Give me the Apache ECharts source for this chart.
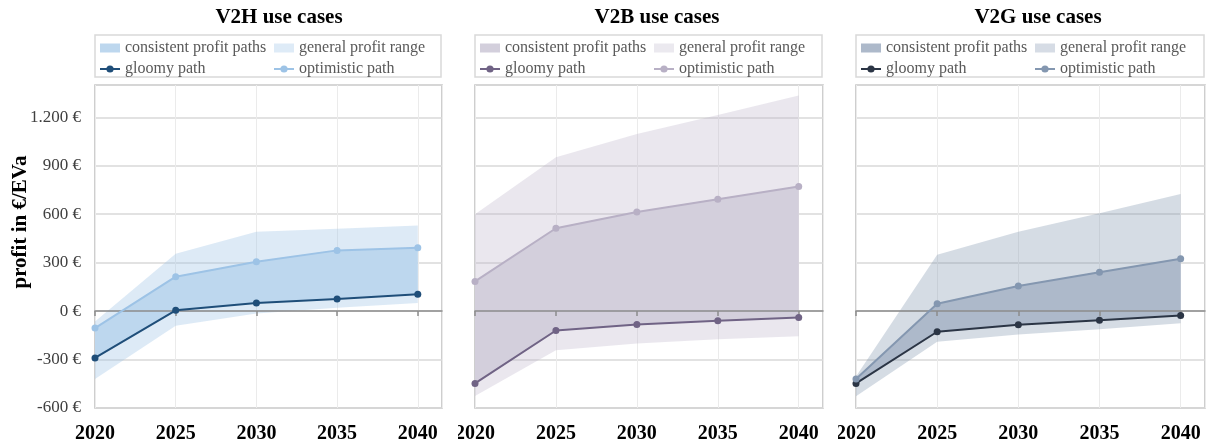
<!DOCTYPE html>
<html>
<head>
<meta charset="utf-8">
<script src="https://cdn.jsdelivr.net/npm/echarts@6/dist/echarts.min.js"></script>
<style>
  html, body { margin: 0; padding: 0; background: #fff; }
  #wrap { position: relative; width: 1209px; height: 445px; }
  .panel { position: absolute; top: 0; height: 445px; }
</style>
</head>
<body>
<div id="wrap">
  <div id="p1" class="panel" style="left:0;width:458px"></div>
  <div id="p2" class="panel" style="left:458px;width:380px"></div>
  <div id="p3" class="panel" style="left:838px;width:371px"></div>
</div>
<script>
// Years on the horizontal axis
const years = [2020, 2025, 2030, 2035, 2040];

// Vehicle-to-home profits (€ per EV and year)
const v2hGloomy     = [-290, 5, 50, 75, 105];
const v2hOptimistic = [-105, 213, 305, 376, 392];
const v2hRangeLow   = [-420, -90, -15, 20, 50];
const v2hRangeHigh  = [-65, 355, 492, 510, 530];

// Vehicle-to-building profits
const v2bGloomy     = [-448, -120, -83, -60, -39];
const v2bOptimistic = [184, 513, 614, 692, 771];
const v2bRangeLow   = [-525, -242, -200, -175, -155];
const v2bRangeHigh  = [600, 953, 1097, 1215, 1335];

// Vehicle-to-grid profits
const v2gGloomy     = [-448, -128, -85, -56, -27];
const v2gOptimistic = [-420, 45, 155, 240, 324];
const v2gRangeLow   = [-527, -190, -145, -112, -76];
const v2gRangeHigh  = [-405, 349, 492, 606, 725];

// Series / legend names
const nameConsistent = 'consistent profit paths';
const nameRange      = 'general profit range';
const nameGloomy     = 'gloomy path';
const nameOptimistic = 'optimistic path';

const FONT = "'Liberation Serif', 'Times New Roman', serif";

function pairs(vals) { return years.map((y, i) => [y, vals[i]]); }
function euro(v) {
  const s = Math.abs(v).toString().replace(/\B(?=(\d{3})+(?!\d))/g, '.');
  return (v < 0 ? '-' : '') + s + ' €';
}

// A filled band between a lower and an upper path, drawn as one polygon
function bandSeries(name, lo, hi, fill, legendColor) {
  return {
    name: name,
    type: 'custom',
    coordinateSystem: 'cartesian2d',
    silent: true,
    itemStyle: { color: legendColor },
    data: years.map((y, i) => [y, lo[i], hi[i]]),
    encode: { x: 0, y: [1, 2] },
    renderItem: function (params, api) {
      if (params.dataIndex !== 0) return;
      const pts = [];
      for (let j = 0; j < years.length; j++) pts.push(api.coord([years[j], hi[j]]));
      for (let j = years.length - 1; j >= 0; j--) pts.push(api.coord([years[j], lo[j]]));
      return { type: 'polygon', shape: { points: pts }, style: { fill: fill } };
    }
  };
}

function buildOption(p) {
  const gl = p.gridLeft, gw = p.gridWidth;
  const legendText = { fontFamily: FONT, fontSize: 16, color: '#595959' };
  return {
    animation: false,
    graphic: [
      { type: 'text', x: p.titleX, y: 18,
        style: { text: p.title, font: 'bold 21px ' + FONT, fill: '#000', align: 'center', verticalAlign: 'middle' } },
      { type: 'rect', shape: { x: gl, y: 35, width: gw - 1, height: 42 },
        style: { fill: 'none', stroke: '#d9d9d9', lineWidth: 1.5 } }
    ].concat(p.showY ? [
      { type: 'text', x: 21, y: 222, rotation: Math.PI / 2,
        style: { text: 'profit in €/EVa', font: 'bold 21px ' + FONT, fill: '#000', align: 'center', verticalAlign: 'middle' } }
    ] : []),
    legend: [
      { orient: 'vertical', left: gl + 4, top: 40, padding: 0, itemWidth: 20, itemHeight: 9, itemGap: 5,
        textStyle: legendText,
        data: [{ name: nameConsistent, icon: 'rect' }, { name: nameGloomy }] },
      { orient: 'vertical', left: gl + 178, top: 40, padding: 0, itemWidth: 20, itemHeight: 9, itemGap: 5,
        textStyle: legendText,
        data: [{ name: nameRange, icon: 'rect' }, { name: nameOptimistic }] }
    ],
    grid: { left: gl, top: 85, width: gw, height: 323, show: true,
            borderColor: '#bfbfbf', borderWidth: 1.5, containLabel: false, outerBoundsMode: 'none' },
    xAxis: [
      { type: 'value', min: 2020, max: 2041.5, interval: 5, position: 'bottom',
        axisLine: { show: false, onZero: false }, axisTick: { show: false },
        splitLine: { show: true, lineStyle: { color: '#ebebeb', width: 1 } },
        axisLabel: { showMaxLabel: false, margin: 16, color: '#000', fontFamily: FONT,
                     fontWeight: 'bold', fontSize: 20, formatter: v => String(v) } },
      // zero line with its small ticks, drawn over the bands
      { type: 'value', min: 2020, max: 2041.5, interval: 5, position: 'bottom', z: 3,
        axisLine: { show: true, onZero: true, lineStyle: { color: '#8c8c8c', width: 1.5 } },
        axisTick: { show: true, length: 5, customValues: years, lineStyle: { color: '#8c8c8c', width: 1.5 } },
        axisLabel: { show: false }, splitLine: { show: false } }
    ],
    yAxis: {
      type: 'value', min: -600, max: 1400, interval: 300,
      axisLine: { show: false }, axisTick: { show: false },
      splitLine: { lineStyle: { color: '#d9d9d9', width: 1.5 } },
      axisLabel: { show: p.showY, showMaxLabel: false, margin: 14, color: '#404040',
                   fontFamily: FONT, fontSize: 17, formatter: euro }
    },
    series: [
      bandSeries(nameRange, p.rangeLow, p.rangeHigh, p.rangeFill, p.rangeLegend),
      bandSeries(nameConsistent, p.gloomy, p.optimistic, p.consFill, p.consFill),
      { name: nameGloomy, type: 'line', z: 4, data: pairs(p.gloomy), symbol: 'circle', symbolSize: 7,
        lineStyle: { color: p.gloomyColor, width: 2 }, itemStyle: { color: p.gloomyColor } },
      { name: nameOptimistic, type: 'line', z: 4, data: pairs(p.optimistic), symbol: 'circle', symbolSize: 7,
        lineStyle: { color: p.optColor, width: 2 }, itemStyle: { color: p.optColor } }
    ]
  };
}

const panels = [
  { el: 'p1', title: 'V2H use cases', titleX: 279, gridLeft: 95, gridWidth: 347, showY: true,
    gloomy: v2hGloomy, optimistic: v2hOptimistic, rangeLow: v2hRangeLow, rangeHigh: v2hRangeHigh,
    consFill: '#bdd7ee', rangeLegend: '#deebf7', rangeFill: 'rgba(157,195,230,0.35)',
    gloomyColor: '#1f4e79', optColor: '#9dc3e6' },
  { el: 'p2', title: 'V2B use cases', titleX: 199, gridLeft: 17, gridWidth: 348, showY: false,
    gloomy: v2bGloomy, optimistic: v2bOptimistic, rangeLow: v2bRangeLow, rangeHigh: v2bRangeHigh,
    consFill: '#d3cfdc', rangeLegend: '#ebe9ef', rangeFill: 'rgba(184,176,198,0.3)',
    gloomyColor: '#706385', optColor: '#b8b0c5' },
  { el: 'p3', title: 'V2G use cases', titleX: 200, gridLeft: 18, gridWidth: 349, showY: false,
    gloomy: v2gGloomy, optimistic: v2gOptimistic, rangeLow: v2gRangeLow, rangeHigh: v2gRangeHigh,
    consFill: '#adb9ca', rangeLegend: '#d6dce5', rangeFill: 'rgba(132,151,176,0.34)',
    gloomyColor: '#2b3545', optColor: '#8497b0' }
];

panels.forEach(p => {
  const chart = echarts.init(document.getElementById(p.el), null, { renderer: 'canvas' });
  chart.setOption(buildOption(p));
});
</script>
</body>
</html>
